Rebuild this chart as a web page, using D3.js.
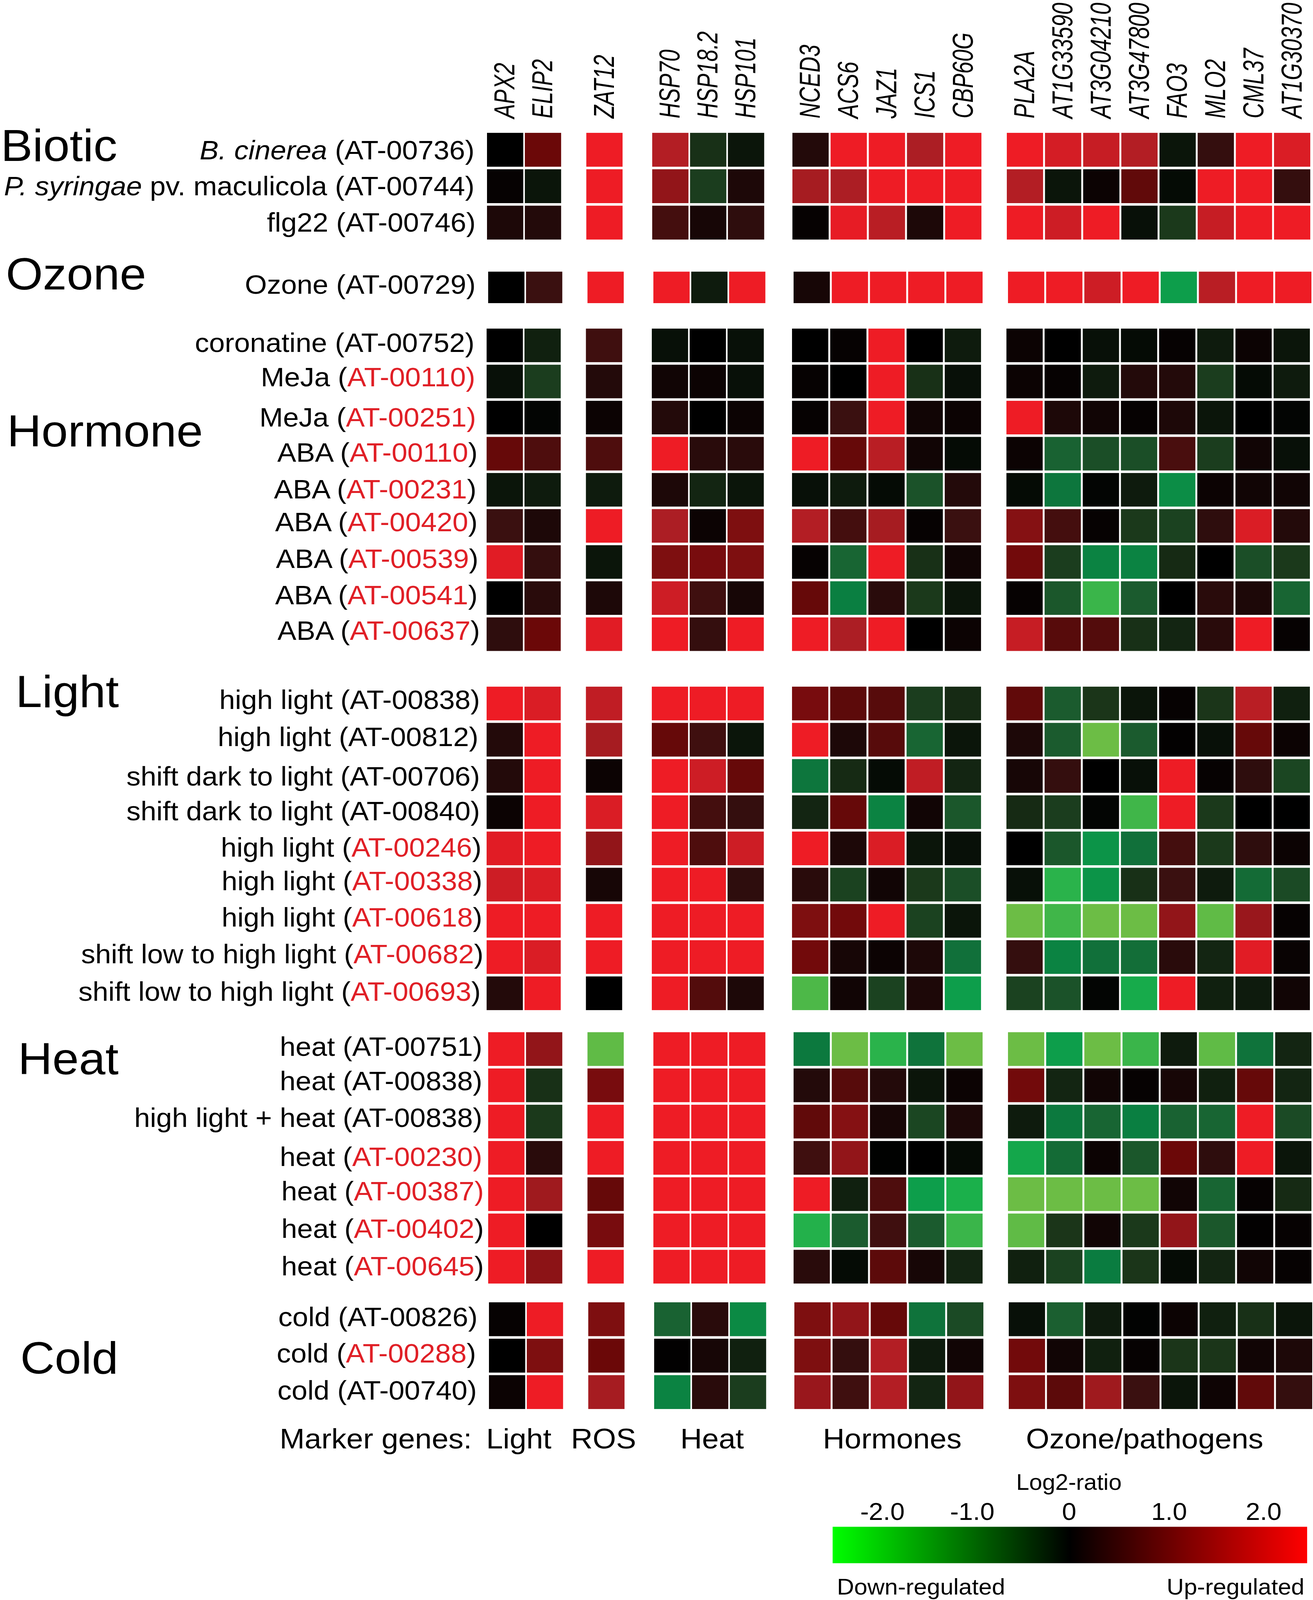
<!DOCTYPE html>
<html>
<head>
<meta charset="utf-8">
<script src="https://cdn.jsdelivr.net/npm/d3@7"></script>
<style>
  html, body { margin: 0; padding: 0; background: #fff; overflow: hidden; }
  svg { display: block; width: 100vw; height: 100vh; }
  text { font-family: "Liberation Sans", Arial, sans-serif; fill: #000; }
</style>
</head>
<body>
<script>
// genes, by marker group
var lightGenes = ['APX2', 'ELIP2'];
var rosGenes = ['ZAT12'];
var heatGenes = ['HSP70', 'HSP18.2', 'HSP101'];
var hormoneGenes = ['NCED3', 'ACS6', 'JAZ1', 'ICS1', 'CBP60G'];
var pathogenGenes = ['PLA2A', 'AT1G33590', 'AT3G04210', 'AT3G47800', 'FAO3', 'MLO2', 'CML37', 'AT1G30370'];
var markerNames = ['Light', 'ROS', 'Heat', 'Hormones', 'Ozone/pathogens'];

var bioticValues = [
  [0, 1, 2, 1.55, -0.45, -0.2, 0.3, 2, 2, 1.5, 2, 2, 1.8, 1.7, 1.55, -0.2, 0.45, 2, 1.85],
  [0.05, -0.2, 2, 1.3, -0.6, 0.25, 1.45, 1.5, 2, 2, 2, 1.55, -0.2, 0.1, 0.9, -0.1, 2, 2, 0.45],
  [0.25, 0.3, 2, 0.6, 0.2, 0.4, 0.05, 1.95, 1.6, 0.25, 2, 2, 1.75, 2, -0.15, -0.55, 1.7, 2, 2]
];
var ozoneValues = [
  [0, 0.5, 2, 2, -0.25, 2, 0.2, 2, 2, 2, 2, 2, 2, 1.75, 2, -2, 1.6, 2, 2]
];
var hormoneValues = [
  [0, -0.3, 0.55, -0.15, 0, -0.15, 0, 0.05, 2, 0, -0.25, 0.1, 0, -0.15, -0.1, 0.05, -0.25, 0.1, -0.2],
  [-0.15, -0.6, 0.3, 0.15, 0.1, -0.15, 0.05, 0, 2, -0.45, -0.15, 0.1, 0.05, -0.25, 0.3, 0.3, -0.6, -0.1, -0.25],
  [0, -0.05, 0.1, 0.3, 0, 0.1, 0.05, 0.5, 2, 0.15, 0.1, 2, 0.25, 0.15, 0.05, 0.25, -0.2, 0, -0.05],
  [0.95, 0.7, 0.7, 2, 0.35, 0.35, 2, 0.95, 1.6, 0.15, -0.1, 0.1, -1.05, -0.8, -0.8, 0.65, -0.6, 0.15, -0.15],
  [-0.2, -0.25, -0.25, 0.25, -0.35, -0.2, -0.15, -0.25, -0.1, -0.85, 0.3, -0.1, -1.4, -0.05, -0.25, -1.75, 0.1, 0.15, 0.15],
  [0.5, 0.25, 2, 1.5, 0.1, 1.15, 1.55, 0.6, 1.45, 0.05, 0.5, 1.2, 0.6, 0.05, -0.55, -0.65, 0.4, 1.85, 0.3],
  [1.9, 0.45, -0.2, 1.15, 1.1, 1.15, 0.05, -1.1, 2, -0.45, 0.15, 1.05, -0.6, -1.6, -1.6, -0.4, 0, -0.8, -0.55],
  [0, 0.35, 0.25, 1.75, 0.55, 0.2, 0.95, -1.55, 0.35, -0.55, -0.2, 0.05, -0.9, -2.4, -0.95, 0, 0.35, 0.25, -1.1],
  [0.4, 1, 1.9, 2, 0.45, 2, 2, 1.5, 2, 0, 0.1, 1.7, 0.8, 0.75, -0.45, -0.35, 0.35, 2, 0.05]
];
var lightValues = [
  [2, 1.85, 1.65, 2, 2, 2, 1.1, 0.85, 0.8, -0.6, -0.4, 0.9, -0.95, -0.5, -0.2, 0.05, -0.5, 1.6, -0.3],
  [0.3, 2, 1.45, 0.95, 0.55, -0.2, 2, 0.25, 0.8, -1.1, -0.2, 0.25, -0.95, -2.8, -0.95, 0.03, -0.15, 0.95, 0.1],
  [0.3, 2, 0.1, 2, 1.75, 0.95, -1.4, -0.4, -0.1, 1.65, -0.35, 0.2, 0.45, 0, -0.15, 2, 0.05, 0.4, -0.7],
  [0.1, 2, 1.85, 2, 0.6, 0.45, -0.35, 0.95, -1.6, 0.15, -0.9, -0.4, -0.6, -0.05, -2.45, 2, -0.55, 0, 0],
  [1.9, 2, 1.3, 2, 0.7, 1.75, 2, 0.25, 1.85, -0.2, -0.15, 0, -0.9, -1.85, -1.3, 0.6, -0.55, 0.4, 0.1],
  [1.75, 1.85, 0.2, 2, 2, 0.4, 0.35, -0.65, 0.15, -0.55, -0.8, -0.15, -2.3, -1.85, -0.45, 0.5, -0.25, -1.2, -0.75],
  [2, 2, 2, 2, 2, 2, 1.15, 1.05, 2, -0.65, -0.2, -2.8, -2.45, -2.8, -2.8, 1.3, -2.7, 1.35, 0.05],
  [2, 1.85, 2, 2, 2, 2, 1.05, 0.2, 0.1, 0.25, -1.3, 0.45, -1.6, -1.3, -1.25, 0.35, -0.35, 1.9, 0.08],
  [0.3, 2, 0, 2, 0.75, 0.25, -2.55, 0.15, -0.65, 0.25, -2, -0.65, -0.85, -0.05, -2.15, 2, -0.3, -0.25, 0.15]
];
var heatValues = [
  [2, 1.3, -2.7, 2, 2, 2, -1.45, -2.8, -2.3, -1.35, -2.8, -2.8, -2, -2.8, -2.4, -0.25, -2.7, -1.35, -0.35],
  [2, -0.45, 1.1, 2, 2, 2, 0.3, 0.8, 0.3, -0.2, 0.1, 1.05, -0.35, 0.15, 0.05, 0.2, -0.3, 0.95, -0.35],
  [2, -0.55, 2, 2, 2, 2, 0.9, 1.2, 0.2, -0.7, 0.25, -0.25, -1.45, -1.1, -1.55, -1.05, -1.1, 2, -0.75],
  [2, 0.35, 2, 2, 2, 2, 0.55, 1.3, -0.02, 0, -0.1, -2.1, -1.2, 0.1, -0.9, 1, 0.4, 2, -0.2],
  [2, 1.4, 0.95, 2, 2, 2, 2, -0.3, 0.7, -2, -2.2, -2.8, -2.8, -2.8, -2.8, 0.15, -1.1, 0.05, -0.4],
  [2, 0, 1.1, 2, 2, 2, -2.25, -0.95, 0.55, -0.95, -2.4, -2.7, -0.5, 0.15, -0.55, 1.3, -0.9, 0.03, 0.05],
  [2, 1.25, 2, 2, 2, 2, 0.35, -0.1, 0.85, 0.2, -0.35, -0.3, -0.65, -1.5, -0.5, -0.1, -0.35, 0.15, 0.05]
];
var coldValues = [
  [0.05, 2, 1.15, -1.05, 0.35, -1.7, 1.15, 1.3, 0.95, -1.35, -0.75, -0.15, -1, -0.25, -0.03, 0.1, -0.3, -0.45, -0.2],
  [0, 1.15, 1, 0.02, 0.2, -0.3, 1.15, 0.45, 1.55, -0.25, 0.15, 1.05, 0.15, -0.3, 0.05, -0.5, -0.5, 0.15, 0.25],
  [0.1, 2, 1.45, -1.6, 0.35, -0.6, 1.35, 0.55, 1.55, -0.35, 1.3, 1.15, 0.85, 1.4, 0.5, -0.2, 0.12, 0.9, 0.45]
];

// experiment labels
var bioticRows = [['B. cinerea', ''], ['P. syringae', ' pv. maculicola'], ['', 'flg22']];
var ozoneRows = [['', 'Ozone']];
var hormoneRows = ['coronatine', 'MeJa', 'MeJa', 'ABA', 'ABA', 'ABA', 'ABA', 'ABA', 'ABA'].map(function(d) { return ['', d]; });
var lightRows = ['high light', 'high light', 'shift dark to light', 'shift dark to light', 'high light', 'high light', 'high light', 'shift low to high light', 'shift low to high light'].map(function(d) { return ['', d]; });
var heatRows = ['heat', 'heat', 'high light + heat', 'heat', 'heat', 'heat', 'heat'].map(function(d) { return ['', d]; });
var coldRows = ['cold', 'cold', 'cold'].map(function(d) { return ['', d]; });

var bioticIds = ['AT-00736', 'AT-00744', 'AT-00746'];
var ozoneIds = ['AT-00729'];
var hormoneIds = ['AT-00752', 'AT-00110', 'AT-00251', 'AT-00110', 'AT-00231', 'AT-00420', 'AT-00539', 'AT-00541', 'AT-00637'];
var lightIds = ['AT-00838', 'AT-00812', 'AT-00706', 'AT-00840', 'AT-00246', 'AT-00338', 'AT-00618', 'AT-00682', 'AT-00693'];
var heatIds = ['AT-00751', 'AT-00838', 'AT-00838', 'AT-00230', 'AT-00387', 'AT-00402', 'AT-00645'];
var coldIds = ['AT-00826', 'AT-00288', 'AT-00740'];

// ids printed in red, and the ones whose closing bracket is red as well
var redIds = ['AT-00110', 'AT-00251', 'AT-00231', 'AT-00420', 'AT-00539', 'AT-00541', 'AT-00637', 'AT-00246', 'AT-00338', 'AT-00618', 'AT-00682', 'AT-00693', 'AT-00230', 'AT-00387', 'AT-00402', 'AT-00645', 'AT-00288'];
var redBracket = ['MeJa|AT-00110', 'MeJa|AT-00251', 'heat|AT-00230', 'heat|AT-00387'];

var legendTicks = [-2, -1, 0, 1, 2];
var legendTickLabels = ['-2.0', '-1.0', '0', '1.0', '2.0'];

// the printed colours of the cells, not the pure ones of the legend bar
var cellStops = [-2.8, -2.4, -2.2, -2, -1.5, -1, -0.5, 0, 0.5, 1, 1.5, 2];
var cellColors = ['#6cbd45', '#3ab54a', '#1bb04b', '#0d9e4b', '#0a7c40', '#1b5f30', '#1b3519', '#000000', '#3a1010', '#6b0808', '#ac1e24', '#ee1c25'];

var width = 3362;
var height = 4348;
var redText = '#e01f26';

var color = d3.scaleLinear().domain(cellStops).range(cellColors).clamp(true);

// the browser window can come out shorter than the figure, so the drawing is fitted to it
var svg = d3.select('body').append('svg')
    .attr('viewBox', '0 0 ' + width + ' ' + height)
    .attr('preserveAspectRatio', 'none');

var geneGroups = [
    { genes: lightGenes, x0: 1247, x1: 1436, labelX: 1245 },
    { genes: rosGenes, x0: 1499, x1: 1590, labelX: 1462 },
    { genes: heatGenes, x0: 1670, x1: 1956, labelX: 1742 },
    { genes: hormoneGenes, x0: 2029, x1: 2513, labelX: 2107 },
    { genes: pathogenGenes, x0: 2578, x1: 3355, labelX: 2627 }
];

// one band scale per gene group, the gaps between groups come from the ranges
geneGroups.forEach(function(g) {
    g.scale = d3.scaleBand().domain(g.genes).range([g.x0, g.x1]).paddingInner(0.05);
});
var allGenes = d3.merge(geneGroups.map(function(g) { return g.genes; }));
function geneX(gene) {
    var g = geneGroups.find(function(g) { return g.genes.indexOf(gene) >= 0; });
    return g.scale(gene);
}
var geneBand = geneGroups[4].scale.bandwidth();

var sections = [
    { name: 'Biotic', values: bioticValues, rows: bioticRows, ids: bioticIds, y0: 361, y1: 651, dx: 0, nameX: 2, nameY: 437,
      baselines: [433, 531, 630], rights: [1215, 1215, 1218] },
    { name: 'Ozone', values: ozoneValues, rows: ozoneRows, ids: ozoneIds, y0: 735, y1: 827, dx: 3, nameX: 15, nameY: 787,
      baselines: [798], rights: [1218] },
    { name: 'Hormone', values: hormoneValues, rows: hormoneRows, ids: hormoneIds, y0: 893, y1: 1769, dx: -1, nameX: 18, nameY: 1213,
      baselines: [956, 1050, 1159, 1255, 1354, 1444, 1543, 1642, 1739], rights: [1215, 1217, 1219, 1223, 1220, 1223, 1225, 1223, 1229] },
    { name: 'Light', values: lightValues, rows: lightRows, ids: lightIds, y0: 1866, y1: 2745, dx: -1, nameX: 40, nameY: 1921,
      baselines: [1927, 2028, 2135, 2229, 2328, 2419, 2518, 2618, 2720], rights: [1229, 1225, 1229, 1229, 1233, 1235, 1235, 1238, 1231] },
    { name: 'Heat', values: heatValues, rows: heatRows, ids: heatIds, y0: 2805, y1: 3488, dx: 3, nameX: 46, nameY: 2919,
      baselines: [2869, 2963, 3063, 3169, 3262, 3364, 3466], rights: [1235, 1235, 1235, 1235, 1239, 1239, 1239] },
    { name: 'Cold', values: coldValues, rows: coldRows, ids: coldIds, y0: 3539, y1: 3829, dx: 5, nameX: 52, nameY: 3732,
      baselines: [3604, 3703, 3803], rights: [1223, 1219, 1221] }
];

// gene names, rotated and squeezed along the reading direction like the original
svg.append('g').selectAll('text')
    .data(allGenes)
    .enter().append('text')
    .attr('transform', function(d) {
        return 'translate(' + (geneX(d) + geneBand / 2 + 24) + ',322) rotate(-90) scale(0.8,1)';
    })
    .style('font-size', '74px')
    .style('font-style', 'italic')
    .text(function(d) { return d; });

sections.forEach(function(sec) {
    var y = d3.scaleBand()
        .domain(d3.range(sec.values.length))
        .range([sec.y0, sec.y1])
        .paddingInner(0.07);

    var g = svg.append('g').attr('class', 'section');

    g.append('text')
        .attr('x', sec.nameX)
        .attr('y', sec.nameY)
        .style('font-size', '122px')
        .text(sec.name);

    var rows = g.selectAll('g.row')
        .data(sec.values)
        .enter().append('g')
            .attr('class', 'row')
            .attr('transform', function(d, i) { return 'translate(' + sec.dx + ',' + y(i) + ')'; });

    rows.selectAll('rect')
        .data(function(d) { return d; })
        .enter().append('rect')
            .attr('x', function(d, i) { return geneX(allGenes[i]); })
            .attr('width', geneBand)
            .attr('height', y.bandwidth())
            .attr('fill', function(d) { return color(d); });

    var labels = g.selectAll('text.rowlabel')
        .data(sec.rows)
        .enter().append('text')
            .attr('class', 'rowlabel')
            .attr('x', function(d, i) { return sec.rights[i]; })
            .attr('y', function(d, i) { return sec.baselines[i]; })
            .attr('text-anchor', 'end')
            .style('font-size', '72.5px');

    labels.each(function(d, i) {
        var t = d3.select(this);
        var id = sec.ids[i];
        var isRed = redIds.indexOf(id) >= 0;
        // AT-00110 also appears in the ABA rows with a black bracket
        var bracketRed = redBracket.indexOf(d[1] + '|' + id) >= 0;
        if (d[0]) t.append('tspan').style('font-style', 'italic').text(d[0]);
        t.append('tspan').text(d[1] + ' (');
        t.append('tspan').style('fill', isRed ? redText : '#000').text(id);
        t.append('tspan').style('fill', bracketRed ? redText : '#000').text(')');
    });
});

// marker group captions under the heatmap
svg.append('text')
    .attr('x', 716)
    .attr('y', 3936)
    .style('font-size', '77px')
    .text('Marker genes:');

svg.append('g').selectAll('text')
    .data(markerNames)
    .enter().append('text')
    .attr('x', function(d, i) { return geneGroups[i].labelX; })
    .attr('y', 3936)
    .style('font-size', '77px')
    .text(function(d) { return d; });

// legend
var legendX = d3.scaleLinear().domain(legendTicks).range([2259, 2489, 2737, 2993, 3235]);

var defs = svg.append('defs');
var grad = defs.append('linearGradient').attr('id', 'legendGrad');
grad.selectAll('stop')
    .data([['0%', '#00ff00'], ['50%', '#000000'], ['100%', '#ff0000']])
    .enter().append('stop')
    .attr('offset', function(d) { return d[0]; })
    .attr('stop-color', function(d) { return d[1]; });

svg.append('rect')
    .attr('x', 2132)
    .attr('y', 4149)
    .attr('width', 1215)
    .attr('height', 99)
    .attr('fill', 'url(#legendGrad)');

var legendAxis = svg.append('g')
    .attr('transform', 'translate(0,4130)')
    .call(d3.axisTop(legendX)
        .tickValues(legendTicks)
        .tickFormat(function(d, i) { return legendTickLabels[i]; })
        .tickSize(0)
        .tickPadding(0));
legendAxis.select('.domain').remove();
legendAxis.selectAll('text')
    .attr('y', 0)
    .attr('dy', 0)
    .style('font-size', '66px')
    .style('font-family', '"Liberation Sans", Arial, sans-serif');

svg.append('text')
    .attr('x', 2737)
    .attr('y', 4049)
    .attr('text-anchor', 'middle')
    .style('font-size', '60px')
    .text('Log2-ratio');

svg.append('text')
    .attr('x', 2143)
    .attr('y', 4333)
    .style('font-size', '61px')
    .text('Down-regulated');

svg.append('text')
    .attr('x', 3340)
    .attr('y', 4333)
    .attr('text-anchor', 'end')
    .style('font-size', '61px')
    .text('Up-regulated');
</script>
</body>
</html>
